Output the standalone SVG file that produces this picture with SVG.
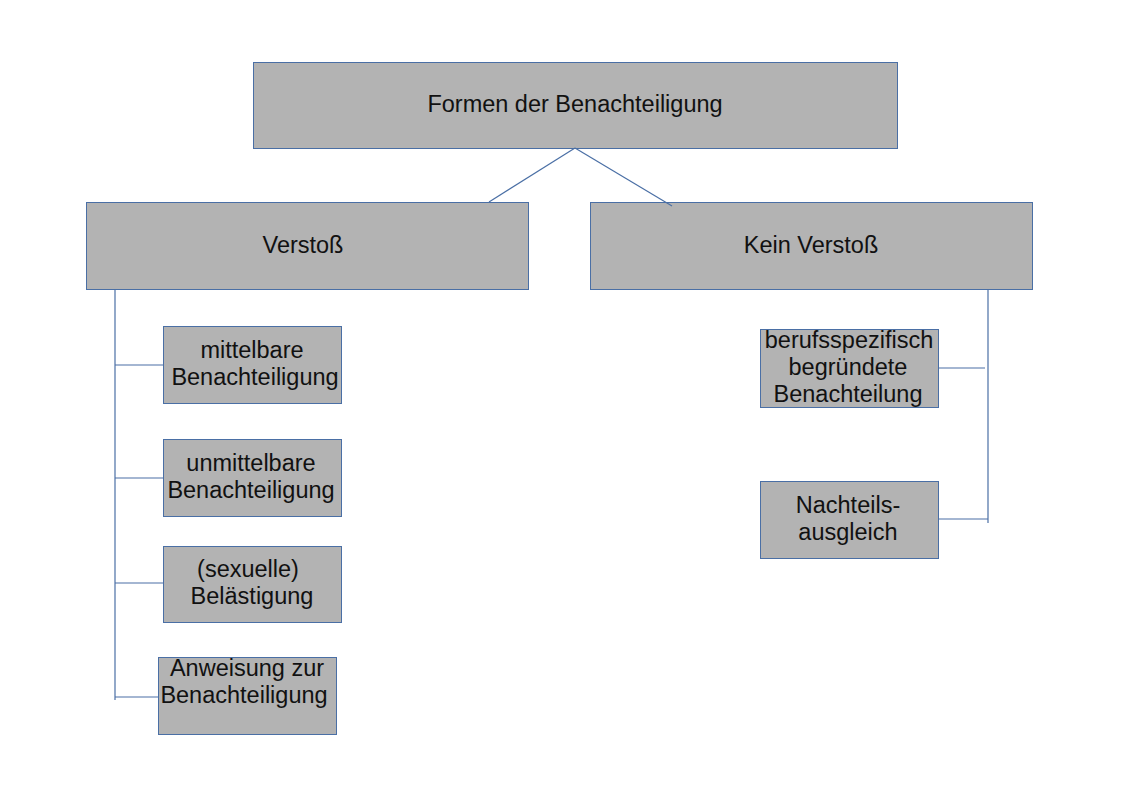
<svg xmlns="http://www.w3.org/2000/svg" width="1123" height="794" viewBox="0 0 1123 794">
<style>
.box{fill:#b3b3b3;stroke:#4a6fa5;stroke-width:1}
.t{font-family:"Liberation Sans",Arial,sans-serif;font-size:23.5px;fill:#111;text-anchor:middle}
.c{stroke:#4a6fa5;stroke-width:1.2;fill:none}
</style>
<rect width="1123" height="794" fill="#fff"/>
<g id="root">
<rect class="box" x="253.5" y="62.5" width="644" height="86"/>
<text class="t" x="575" y="112">Formen der Benachteiligung</text>
</g>
<g id="verstoss">
<rect class="box" x="86.5" y="202.5" width="442" height="87"/>
<text class="t" x="303" y="253">Verstoß</text>
</g>
<g id="kein-verstoss">
<rect class="box" x="590.5" y="202.5" width="442" height="87"/>
<text class="t" x="811" y="253">Kein Verstoß</text>
</g>
<g id="mittelbare">
<rect class="box" x="163.5" y="326.5" width="178" height="77"/>
<text class="t" x="252" y="358">mittelbare</text>
<text class="t" x="255" y="385">Benachteiligung</text>
</g>
<g id="unmittelbare">
<rect class="box" x="163.5" y="439.5" width="178" height="77"/>
<text class="t" x="251" y="471">unmittelbare</text>
<text class="t" x="251" y="498">Benachteiligung</text>
</g>
<g id="belaestigung">
<rect class="box" x="163.5" y="546.5" width="178" height="76"/>
<text class="t" x="248" y="577">(sexuelle)</text>
<text class="t" x="252" y="604">Belästigung</text>
</g>
<g id="anweisung">
<rect class="box" x="158.5" y="657.5" width="178" height="77"/>
<text class="t" x="247" y="676">Anweisung zur</text>
<text class="t" x="244" y="703">Benachteiligung</text>
</g>
<g id="berufsspezifisch">
<rect class="box" x="760.5" y="329.5" width="178" height="78"/>
<text class="t" x="849" y="348">berufsspezifisch</text>
<text class="t" x="848" y="375">begründete</text>
<text class="t" x="848" y="402">Benachteilung</text>
</g>
<g id="nachteilsausgleich">
<rect class="box" x="760.5" y="481.5" width="178" height="77"/>
<text class="t" x="848" y="513">Nachteils-</text>
<text class="t" x="848" y="540">ausgleich</text>
</g>
<g id="connectors">
<line class="c" x1="575" y1="148" x2="489" y2="202"/>
<line class="c" x1="575" y1="148" x2="672" y2="206"/>
<line class="c" x1="115" y1="289" x2="115" y2="700"/>
<line class="c" x1="115" y1="365" x2="163" y2="365"/>
<line class="c" x1="115" y1="478" x2="163" y2="478"/>
<line class="c" x1="115" y1="583" x2="163" y2="583"/>
<line class="c" x1="115" y1="697" x2="158" y2="697"/>
<line class="c" x1="988" y1="289" x2="988" y2="523"/>
<line class="c" x1="938" y1="368" x2="985" y2="368"/>
<line class="c" x1="938" y1="519" x2="988" y2="519"/>
</g>
</svg>
